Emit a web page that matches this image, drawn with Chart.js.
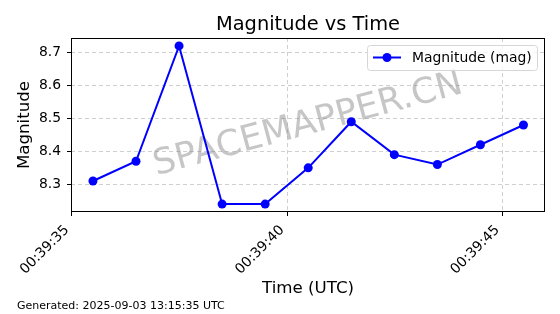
<!DOCTYPE html>
<html>
<head>
<meta charset="utf-8">
<script src="https://cdn.jsdelivr.net/npm/chart.js@4/dist/chart.umd.min.js"></script>
<style>
  html, body { margin: 0; padding: 0; background: #fff; }
  #wrap { width: 560px; height: 314px; }
</style>
</head>
<body>
<div id="wrap"><canvas id="magChart" width="560" height="314"></canvas></div>
<script>
"use strict";

// time in seconds of day (00:39:35.49 ...), magnitude values
var timeSec = [2375.49, 2376.49, 2377.49, 2378.49, 2379.49, 2380.49, 2381.49, 2382.49, 2383.49, 2384.49, 2385.49];
var magnitude = [8.31, 8.37, 8.72, 8.24, 8.24, 8.35, 8.49, 8.39, 8.36, 8.42, 8.48];
var xTickValues = [2375, 2380, 2385];
var yTickValues = [8.3, 8.4, 8.5, 8.6, 8.7];

var FONT = "'DejaVu Sans', sans-serif";

function pad2(n) {
    return (n < 10 ? '0' : '') + n;
}

function fmtTime(sec) {
    var s = Math.round(sec);
    return pad2(Math.floor(s / 3600)) + ':' + pad2(Math.floor(s / 60) % 60) + ':' + pad2(s % 60);
}

/*
 * Extra drawing: title over the axes, frame, watermark, legend, footer
 */
var extrasPlugin = {
    id: 'extras',
    beforeDatasetsDraw: function (chart) {
        var ctx = chart.ctx;
        var a = chart.chartArea;
        ctx.save();
        ctx.translate((a.left + a.right) / 2, (a.top + a.bottom) / 2);
        ctx.rotate(-15 * Math.PI / 180);
        ctx.font = '35.5px ' + FONT;
        ctx.fillStyle = 'rgba(128,128,128,0.45)';
        ctx.textAlign = 'center';
        ctx.textBaseline = 'middle';
        ctx.fillText('SPACEMAPPER.CN', 0, 0);
        ctx.restore();
    },
    afterDraw: function (chart) {
        var ctx = chart.ctx;
        var a = chart.chartArea;

        // title, centred over the axes
        ctx.save();
        ctx.fillStyle = '#000';
        ctx.font = '19.4px ' + FONT;
        ctx.textAlign = 'center';
        ctx.textBaseline = 'alphabetic';
        ctx.fillText('Magnitude vs Time', (a.left + a.right) / 2, 30);
        ctx.restore();

        // full box around the axes
        ctx.save();
        ctx.strokeStyle = '#000';
        ctx.lineWidth = 1;
        ctx.strokeRect(Math.round(a.left) + 0.5, Math.round(a.top) + 0.5,
            Math.round(a.right - a.left) - 1, Math.round(a.bottom - a.top) - 1);
        ctx.restore();

        // legend
        var ds = chart.data.datasets[0];
        var bx = 367.5, by = 45.5, bw = 170, bh = 25;
        ctx.save();
        ctx.beginPath();
        ctx.roundRect(bx, by, bw, bh, 3);
        ctx.fillStyle = 'rgba(255,255,255,0.8)';
        ctx.fill();
        ctx.strokeStyle = '#d6d6d6';
        ctx.lineWidth = 1;
        ctx.stroke();
        ctx.beginPath();
        ctx.moveTo(373, 57.5);
        ctx.lineTo(401, 57.5);
        ctx.strokeStyle = ds.borderColor;
        ctx.lineWidth = 2;
        ctx.stroke();
        ctx.beginPath();
        ctx.arc(387, 57.5, 4.5, 0, Math.PI * 2);
        ctx.fillStyle = ds.pointBackgroundColor;
        ctx.fill();
        ctx.fillStyle = '#000';
        ctx.font = '13.9px ' + FONT;
        ctx.textAlign = 'left';
        ctx.textBaseline = 'middle';
        ctx.fillText(ds.label, 412, 58);
        ctx.restore();

        // footer
        ctx.save();
        ctx.fillStyle = '#000';
        ctx.font = '11px ' + FONT;
        ctx.textAlign = 'left';
        ctx.textBaseline = 'alphabetic';
        ctx.fillText('Generated: 2025-09-03 13:15:35 UTC', 17, 308.5);
        ctx.restore();
    }
};

var points = [];
for (var i = 0; i < timeSec.length; i++) {
    points.push({x: timeSec[i], y: magnitude[i]});
}

var gridOpts = {
    color: 'rgba(176,176,176,0.6)',
    lineWidth: 1,
    tickColor: '#000',
    tickLength: 4,
    tickWidth: 1
};

new Chart(document.getElementById('magChart'), {
    type: 'line',
    data: {
        datasets: [{
            label: 'Magnitude (mag)',
            data: points,
            borderColor: '#0000ff',
            backgroundColor: '#0000ff',
            pointBackgroundColor: '#0000ff',
            pointBorderColor: '#0000ff',
            pointRadius: 4.5,
            pointBorderWidth: 0,
            borderWidth: 2,
            tension: 0,
            fill: false
        }]
    },
    options: {
        responsive: false,
        animation: false,
        devicePixelRatio: 1,
        layout: {padding: {left: 0, right: 15, top: 38, bottom: 0}},
        plugins: {
            legend: {display: false},
            tooltip: {enabled: false},
            title: {display: false}
        },
        scales: {
            x: {
                type: 'linear',
                min: 2374.98,
                max: 2385.99,
                afterFit: function (scale) { scale.height = 102; },
                afterBuildTicks: function (scale) {
                    scale.ticks = xTickValues.map(function (v) { return {value: v}; });
                },
                grid: gridOpts,
                border: {display: false, dash: [4, 3]},
                ticks: {
                    color: '#000',
                    font: {family: FONT, size: 13.9},
                    minRotation: 45,
                    maxRotation: 45,
                    padding: 6,
                    labelOffset: -5,
                    autoSkip: false,
                    callback: function (v) { return fmtTime(v); }
                },
                title: {
                    display: true,
                    text: 'Time (UTC)',
                    color: '#000',
                    font: {family: FONT, size: 16.67},
                    padding: {top: 0, bottom: 15.8}
                }
            },
            y: {
                min: 8.216,
                max: 8.744,
                afterFit: function (scale) { scale.width = 71; },
                afterBuildTicks: function (scale) {
                    scale.ticks = yTickValues.map(function (v) { return {value: v}; });
                },
                grid: gridOpts,
                border: {display: false, dash: [4, 3]},
                ticks: {
                    color: '#000',
                    font: {family: FONT, size: 13.9},
                    padding: 6,
                    callback: function (v) { return v.toFixed(1); }
                },
                title: {
                    display: true,
                    text: 'Magnitude',
                    color: '#000',
                    font: {family: FONT, size: 16.67},
                    padding: {top: 14.2, bottom: 0}
                }
            }
        }
    },
    plugins: [extrasPlugin]
});
</script>
</body>
</html>
